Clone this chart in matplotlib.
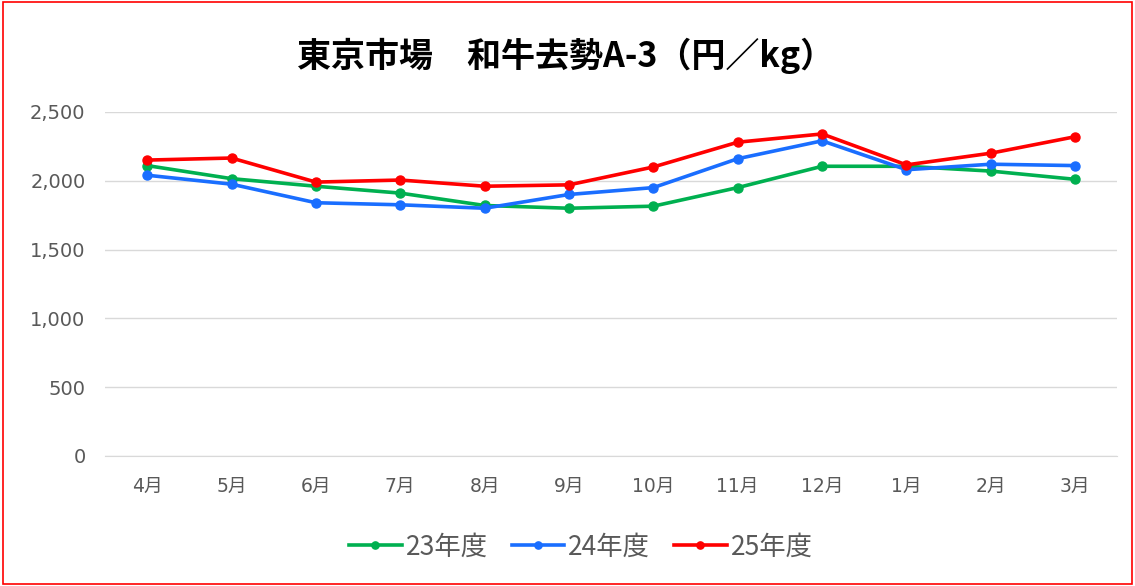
import matplotlib
matplotlib.use("Agg")
import matplotlib.pyplot as plt
from matplotlib.patches import Rectangle

plt.rcParams["font.family"] = ["Noto Sans CJK JP", "DejaVu Sans"]

# 月（年度順）
months = ["4月", "5月", "6月", "7月", "8月", "9月",
          "10月", "11月", "12月", "1月", "2月", "3月"]

# 和牛去勢A-3 東京市場（円/kg）
fy23 = [2110, 2015, 1960, 1910, 1820, 1800, 1815, 1950, 2105, 2105, 2070, 2010]
fy24 = [2040, 1975, 1840, 1825, 1800, 1900, 1950, 2160, 2290, 2080, 2120, 2110]
fy25 = [2150, 2165, 1990, 2005, 1960, 1970, 2100, 2280, 2340, 2115, 2200, 2320]

series = [("23年度", fy23, "#00B050"),
          ("24年度", fy24, "#1A6EFF"),
          ("25年度", fy25, "#FF0000")]

yticks = [0, 500, 1000, 1500, 2000, 2500]

GRAY = "#595959"
TICKFONT = ["DejaVu Sans", "Noto Sans CJK JP"]

fig = plt.figure(figsize=(11.35, 5.86), dpi=100)
ax = fig.add_axes([0.0925, 0.222, 0.892, 0.587])

x = range(len(months))
for label, vals, col in series:
    ax.plot(x, vals, color=col, linewidth=2.6, marker="o", markersize=6.5,
            label=label, solid_joinstyle="round")

ax.set_xlim(-0.5, len(months) - 0.5)
ax.set_ylim(0, 2500)
ax.set_yticks(yticks)
ax.set_yticklabels([f"{v:,}" for v in yticks], family=TICKFONT, fontsize=14)
ax.set_xticks(list(x))
ax.set_xticklabels(months, family=TICKFONT, fontsize=13.5)
ax.tick_params(axis="both", length=0, colors=GRAY)
ax.tick_params(axis="x", pad=15)
ax.tick_params(axis="y", pad=14)
ax.grid(axis="y", color="#D9D9D9", linewidth=1.0)
ax.set_axisbelow(True)
for s in ["top", "right", "left"]:
    ax.spines[s].set_visible(False)
ax.spines["bottom"].set_color("#D9D9D9")

fig.text(0.498, 0.905, "東京市場　和牛去勢A-3（円／kg）", ha="center", va="center",
         fontsize=24.5, fontweight="bold", color="black")

ax.legend(loc="center", bbox_to_anchor=(0.47, -0.265), ncol=3, frameon=False,
          fontsize=19, handlelength=2.0, handletextpad=0.15, columnspacing=0.9,
          labelcolor=GRAY, markerscale=0.8)

fig.patches.append(Rectangle((0.003, 0.004), 0.994, 0.992, transform=fig.transFigure,
                             fill=False, edgecolor="#FF0000", linewidth=1.2))

fig.savefig("out.png", dpi=100)
